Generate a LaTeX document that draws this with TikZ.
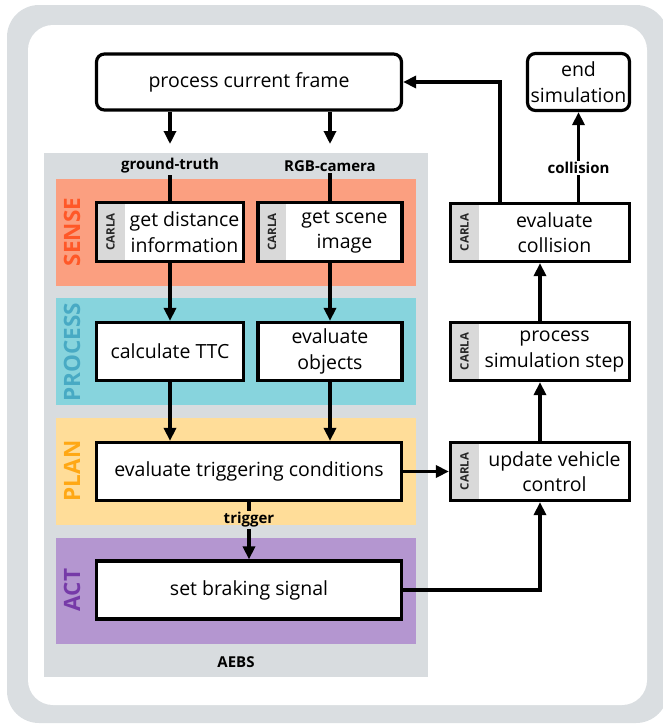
\documentclass[tikz,border=0pt]{standalone}
\usepackage{fontspec}
\setmainfont{Open Sans}
\usetikzlibrary{arrows.meta,calc}

\definecolor{framegray}{RGB}{218,222,225}
\definecolor{panelgray}{RGB}{216,220,223}
\definecolor{stripgray}{RGB}{217,217,217}
\definecolor{senseband}{RGB}{251,159,128}
\definecolor{sensetext}{RGB}{255,88,40}
\definecolor{procband}{RGB}{135,212,221}
\definecolor{proctext}{RGB}{72,170,196}
\definecolor{planband}{RGB}{255,221,153}
\definecolor{plantext}{RGB}{255,168,20}
\definecolor{actband}{RGB}{180,150,208}
\definecolor{acttext}{RGB}{118,58,168}

\newcommand\mainsz{\fontsize{19.5}{25.5}\selectfont}

\begin{document}
\begin{tikzpicture}[x=1pt,y=-1pt,
  box/.style={draw=black, line width=3.2pt, fill=white, inner sep=0pt, font=\mainsz, align=center},
  rbox/.style={box, rounded corners=8pt},
  carla/.style={box, path picture={
      \fill[stripgray] (path picture bounding box.north west) rectangle ([xshift=28pt]path picture bounding box.south west);
      \node[rotate=90, inner sep=0pt, font=\bfseries\fontsize{11.5}{11.5}\selectfont, text=black!85]
        at ([xshift=14pt]path picture bounding box.west) {CARLA};}},
  txt/.style={font=\mainsz, align=center, inner sep=0pt},
  bandlbl/.style={rotate=90, inner sep=0pt, font=\bfseries\fontsize{22.5}{22.5}\selectfont},
  lbl/.style={font=\bfseries\fontsize{15}{15}\selectfont, inner sep=1.5pt},
  ln/.style={line width=3.2pt},
  arr/.style={line width=3.2pt, -{Triangle[length=13pt,width=12pt]}}
]
\useasboundingbox (0,0) rectangle (662,726);

% outer frame
\fill[framegray, rounded corners=32pt] (7,5) rectangle (668,723);
\fill[white, rounded corners=25pt] (28,25) rectangle (647,705);

% AEBS panel and its four stages
\fill[panelgray] (44,153) rectangle (428,677);
\fill[senseband] (56,179) rectangle (416,286);
\fill[procband]  (56,298) rectangle (416,405);
\fill[planband]  (56,418) rectangle (416,525);
\fill[actband]   (56,538) rectangle (416,644);

\node[bandlbl, text=sensetext] (senseL) at (72,232) {SENSE};
\node[bandlbl, text=proctext]  (procL)  at (72,352) {PROCESS};
\node[bandlbl, text=plantext]  (planL)  at (72,471) {PLAN};
\node[bandlbl, text=acttext]   (actL)   at (72,590) {ACT};
\node[lbl] (aebs) at (236,662) {AEBS};

% blocks
\node[rbox, minimum width=305pt, minimum height=56pt] (frame) at (249,82) {process current frame};
\node[rbox, minimum width=102pt, minimum height=57pt] (endsim) at (578.5,82) {end\\simulation};

\node[carla, minimum width=147pt, minimum height=59pt] (dist) at (170,232) {};
\node[txt] (distT) at ([xshift=14.5pt]dist.center) {get distance\\information};
\node[carla, minimum width=144pt, minimum height=59pt] (scene) at (330,232) {};
\node[txt] (sceneT) at ([xshift=14.5pt]scene.center) {get scene\\image};

\node[box, minimum width=147pt, minimum height=58pt] (ttc) at (170,351.5) {calculate TTC};
\node[box, minimum width=144pt, minimum height=58pt] (obj) at (330,351.5) {evaluate\\objects};

\node[box, minimum width=305pt, minimum height=58pt] (trig) at (249,471.5) {evaluate triggering conditions};
\node[box, minimum width=305pt, minimum height=58pt] (brake) at (249,590) {set braking signal};

\node[carla, minimum width=179pt, minimum height=58pt] (coll) at (540,232.5) {};
\node[txt] (collT) at ([xshift=14.5pt]coll.center) {evaluate\\collision};
\node[carla, minimum width=179pt, minimum height=58pt] (sim) at (540,351.5) {};
\node[txt] (simT) at ([xshift=14.5pt]sim.center) {process\\simulation step};
\node[carla, minimum width=179pt, minimum height=58pt] (upd) at (540,471.5) {};
\node[txt] (updT) at ([xshift=14.5pt]upd.center) {update vehicle\\control};

% sensor inputs
\node[lbl] (gt)  at (170,166) {ground-truth};
\node[lbl] (rgb) at (330,166) {RGB-camera};
\coordinate (gtin)  at (170,144);
\coordinate (rgbin) at (330,144);
\draw[arr] (frame.south -| gtin) -- (gtin);
\draw[arr] (frame.south -| rgbin) -- (rgbin);
\draw[ln] (gt.south) -- (dist.north -| gt.south);
\draw[ln] (rgb.south) -- (scene.north -| rgb.south);

% AEBS pipeline
\draw[arr] (dist) -- (ttc);
\draw[arr] (scene) -- (obj);
\draw[arr] (ttc.south) -- (trig.north -| ttc.south);
\draw[arr] (obj.south) -- (trig.north -| obj.south);
\node[lbl] (trg) at (249,520) {trigger};
\draw[ln] (trig.south -| trg) -- (trg.north);
\draw[arr] (trg.south) -- (brake.north -| trg);

% simulation loop
\draw[arr] (trig.east) -- (upd.west);
\draw[arr] (brake.east) -| (upd.south);
\draw[arr] (upd) -- (sim);
\draw[arr] (sim) -- (coll);
\draw[arr] ([xshift=-40pt]coll.north) |- (frame.east);
\draw[arr] (coll.north -| endsim.south) -- node[lbl, pos=0.38, fill=white] (collL) {collision} (endsim.south);
\end{tikzpicture}
\end{document}
